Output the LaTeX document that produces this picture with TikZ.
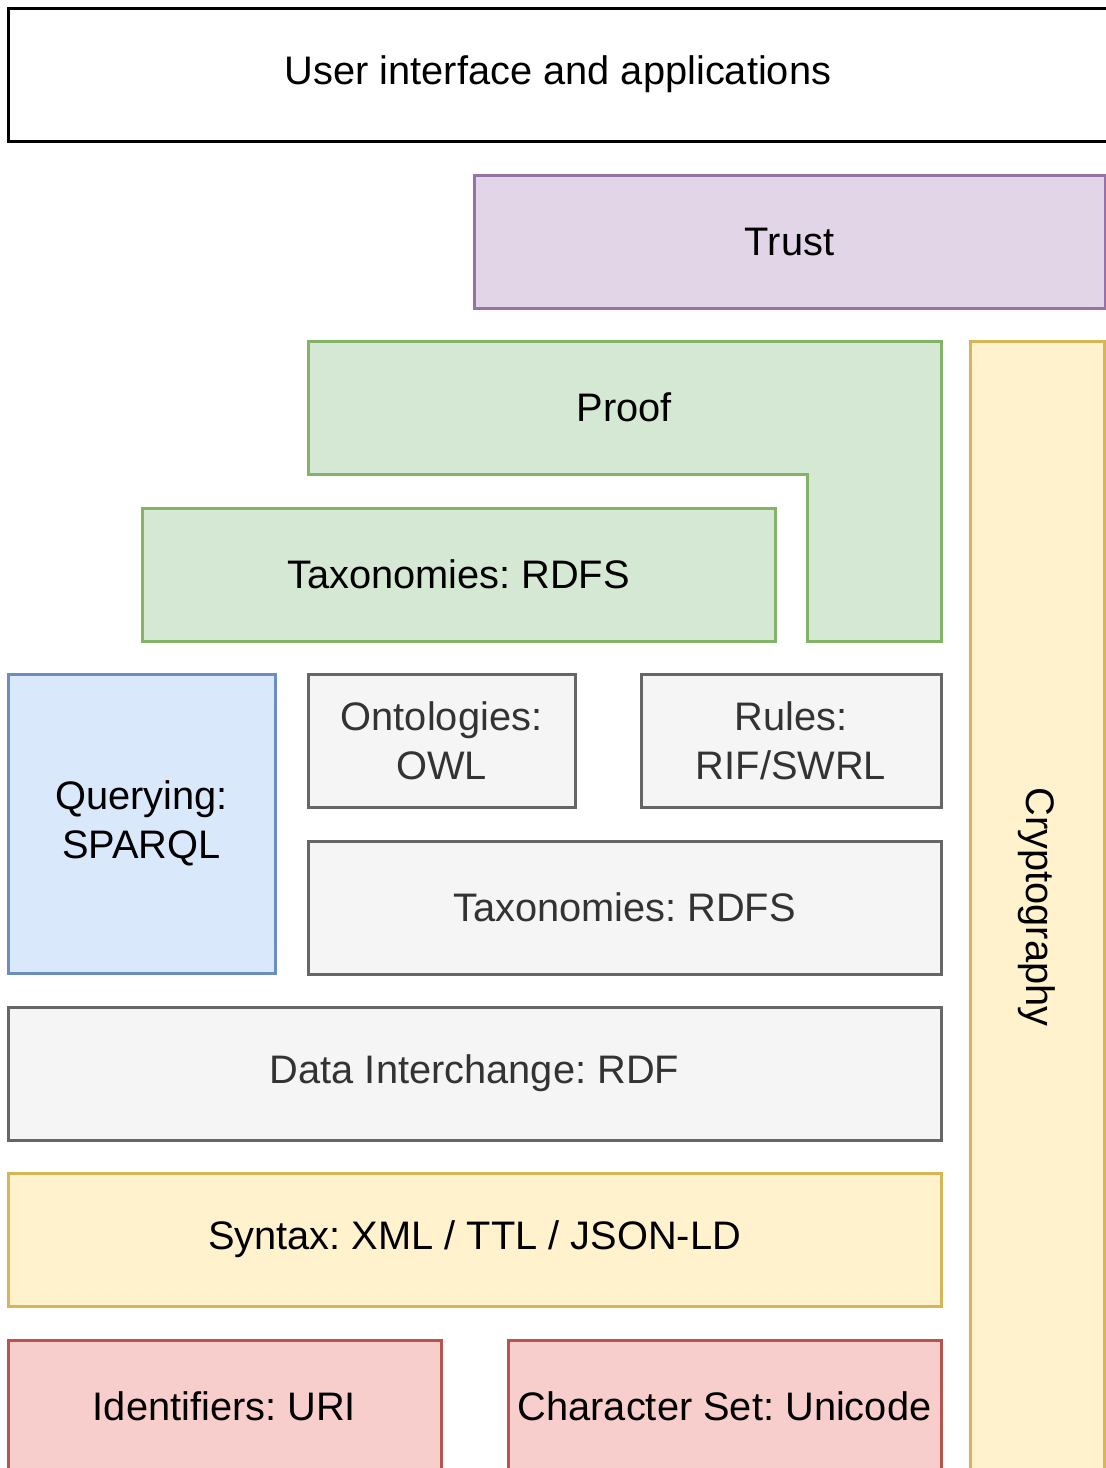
\documentclass[tikz,border=0pt]{standalone}
\usepackage{fontspec}
\setmainfont{Liberation Sans}
\frenchspacing
\definecolor{purpleFill}{HTML}{E1D5E7}
\definecolor{purpleLine}{HTML}{9673A6}
\definecolor{greenFill}{HTML}{D5E8D4}
\definecolor{greenLine}{HTML}{82B366}
\definecolor{yellowFill}{HTML}{FFF2CC}
\definecolor{yellowLine}{HTML}{D6B656}
\definecolor{blueFill}{HTML}{DAE8FC}
\definecolor{blueLine}{HTML}{6C8EBF}
\definecolor{greyFill}{HTML}{F5F5F5}
\definecolor{greyLine}{HTML}{666666}
\definecolor{greyText}{HTML}{333333}
\definecolor{redFill}{HTML}{F8CECC}
\definecolor{redLine}{HTML}{B85450}
\tikzset{
  layer/.style={rectangle, draw, line width=1.5pt, inner sep=0pt, outer sep=0pt,
    anchor=north west, align=center, minimum height=66.5pt,
    font=\fontsize{19.9}{24.5}\selectfont},
  plain/.style={layer, draw=black, fill=white},
  purple/.style={layer, draw=purpleLine, fill=purpleFill},
  green/.style={layer, draw=greenLine, fill=greenFill},
  yellow/.style={layer, draw=yellowLine, fill=yellowFill},
  blue/.style={layer, draw=blueLine, fill=blueFill},
  grey/.style={layer, draw=greyLine, fill=greyFill, text=greyText},
  red/.style={layer, draw=redLine, fill=redFill},
  caption/.style={inner sep=0pt, font=\fontsize{19.9}{24.5}\selectfont, align=center}
}
\begin{document}
\begin{tikzpicture}[x=0.5pt, y=-0.5pt]
\useasboundingbox (0,0) rectangle (1106,1468);
\clip (0,0) rectangle (1106,1468);

% top layers
\node[plain, minimum width=550pt] (ui) at (8,8) {User interface and applications};
\node[purple, minimum width=315.5pt] (trust) at (474,175) {Trust};

% proof: L-shaped block wrapping the right side
\coordinate (p1) at (308,341);
\coordinate (p2) at (941,341);
\coordinate (p3) at (941,641);
\coordinate (p4) at (807,641);
\coordinate (p5) at (807,474);
\coordinate (p6) at (308,474);
\draw[greenLine, fill=greenFill, line width=1.5pt]
  (p1) -- (p2) -- (p3) -- (p4) -- (p5) -- (p6) -- cycle;
\node[caption] (proof) at (624.5,407.5) {Proof};

\node[green, minimum width=316.5pt] (tax1) at (142,508) {Taxonomies: RDFS};

% cryptography column
\node[yellow, minimum width=67pt, minimum height=566pt] (crypto) at (970,341) {};
\node[caption, rotate=-90] (cryptoLabel) at (crypto.center) {Cryptography};

% middle layers
\node[blue, minimum width=133.5pt, minimum height=149.5pt] (query) at (8,674) {Querying:\\SPARQL};
\node[grey, minimum width=133.5pt] (onto) at (308,674) {Ontologies:\\OWL};
\node[grey, minimum width=150pt] (rules) at (641,674) {Rules:\\RIF/SWRL};
\node[grey, minimum width=316.5pt] (tax2) at (308,841) {Taxonomies: RDFS};
\node[grey, minimum width=466.5pt] (rdf) at (8,1007) {Data Interchange: RDF};

% base layers
\node[yellow, minimum width=466.5pt] (syntax) at (8,1173) {Syntax: XML / TTL / JSON-LD};
\node[red, minimum width=216.5pt] (uri) at (8,1340) {Identifiers: URI};
\node[red, minimum width=216.5pt] (unicode) at (508,1340) {Character Set: Unicode};
\end{tikzpicture}
\end{document}
